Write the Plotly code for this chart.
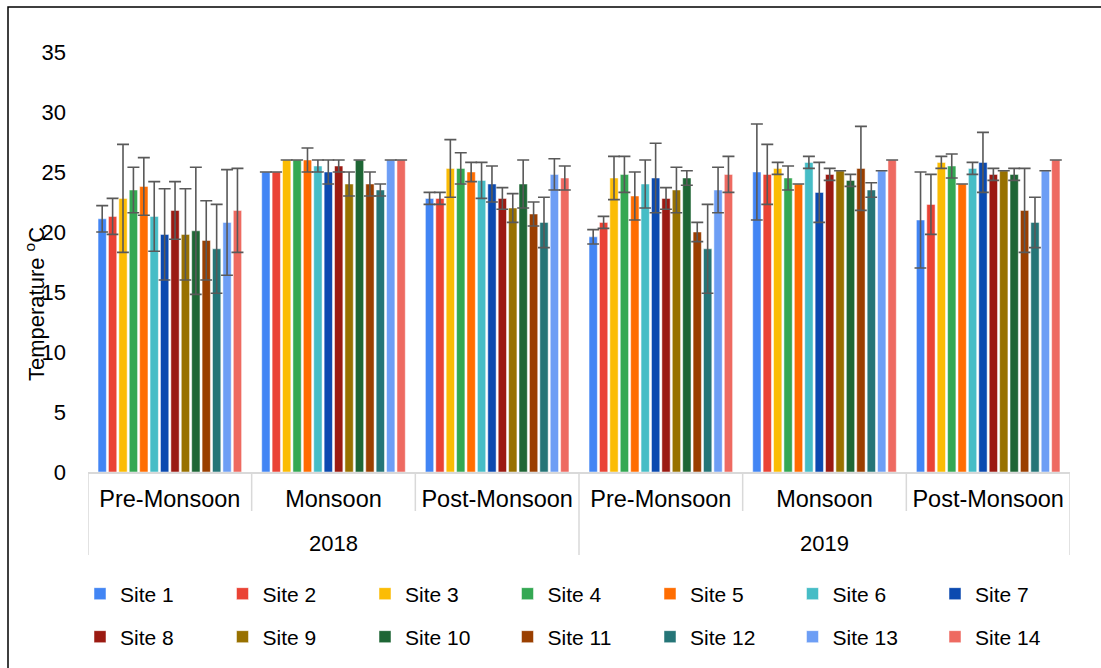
import plotly.graph_objects as go

years = ["2018", "2019"]
seasons = ["Pre-Monsoon", "Monsoon", "Post-Monsoon", "Pre-Monsoon", "Monsoon", "Post-Monsoon"]
season_year = ["2018", "2018", "2018", "2019", "2019", "2019"]
sites = [f"Site {i}" for i in range(1, 15)]

# mean temperature per site, one value per season group (in the order above)
means = {
    "Site 1":  [21.1, 25.0, 22.8, 19.6, 25.0, 21.0],
    "Site 2":  [21.3, 25.0, 22.8, 20.8, 24.8, 22.3],
    "Site 3":  [22.8, 26.0, 25.3, 24.5, 25.3, 25.8],
    "Site 4":  [23.5, 26.0, 25.3, 24.8, 24.5, 25.5],
    "Site 5":  [23.8, 26.0, 25.0, 23.0, 24.0, 24.0],
    "Site 6":  [21.3, 25.5, 24.3, 24.0, 25.8, 25.3],
    "Site 7":  [19.8, 25.0, 24.0, 24.5, 23.3, 25.8],
    "Site 8":  [21.8, 25.5, 22.8, 22.8, 24.8, 24.8],
    "Site 9":  [19.8, 24.0, 22.0, 23.5, 25.1, 25.1],
    "Site 10": [20.1, 26.0, 24.0, 24.5, 24.3, 24.8],
    "Site 11": [19.3, 24.0, 21.5, 20.0, 25.3, 21.8],
    "Site 12": [18.6, 23.5, 20.8, 18.6, 23.5, 20.8],
    "Site 13": [20.8, 26.0, 24.8, 23.5, 25.1, 25.1],
    "Site 14": [21.8, 26.0, 24.5, 24.8, 26.0, 26.0],
}
errors = {
    "Site 1":  [1.1, 0.0, 0.5, 0.6, 4.0, 4.0],
    "Site 2":  [1.5, 0.0, 0.5, 0.5, 2.5, 2.5],
    "Site 3":  [4.5, 0.0, 2.4, 1.8, 0.5, 0.5],
    "Site 4":  [1.9, 0.0, 1.3, 1.5, 1.0, 1.0],
    "Site 5":  [2.4, 1.0, 0.8, 2.0, 0.0, 0.0],
    "Site 6":  [2.9, 0.5, 1.5, 2.0, 0.5, 0.5],
    "Site 7":  [3.8, 1.0, 1.5, 2.9, 2.5, 2.5],
    "Site 8":  [2.4, 0.5, 0.9, 0.9, 0.5, 0.5],
    "Site 9":  [3.8, 1.0, 1.2, 1.9, 0.0, 0.0],
    "Site 10": [5.3, 0.0, 2.0, 0.6, 0.5, 0.5],
    "Site 11": [3.3, 1.0, 1.0, 0.8, 3.5, 3.5],
    "Site 12": [3.7, 0.5, 2.1, 3.7, 0.6, 2.1],
    "Site 13": [4.4, 0.0, 1.3, 1.9, 0.0, 0.0],
    "Site 14": [3.5, 0.0, 1.0, 1.5, 0.0, 0.0],
}
colors = ["#4285F4", "#EA4335", "#FBBC04", "#34A853", "#FF6D01", "#46BDC6", "#0B4AB0",
          "#9B1A12", "#987100", "#1E6635", "#9A3F00", "#257577", "#6D9EF5", "#EE6A61"]

FONT = "Liberation Sans, Arial, sans-serif"
xpos = list(range(len(seasons)))

fig = go.Figure()
for i, s in enumerate(sites):
    fig.add_trace(go.Bar(
        name=s,
        x=xpos,
        y=means[s],
        customdata=season_year,
        marker=dict(color=colors[i], line=dict(color="white", width=0.5)),
        error_y=dict(type="data", array=errors[s], visible=True,
                     color="#595959", thickness=1.6, width=6),
        legend="legend" if i < 7 else "legend2",
    ))

L, R, T, B = 88, 31, 52, 196
W, H = 1101, 668
pw, ph = W - L - R, H - T - B

def px_x(x):
    return (x - L) / pw

def px_y(y):
    return (H - B - y) / ph

legend_common = dict(
    orientation="h", xanchor="left", yanchor="middle",
    font=dict(family=FONT, size=21, color="#000000"),
    entrywidth=97.5, entrywidthmode="pixels",
    bgcolor="rgba(0,0,0,0)", traceorder="normal",
)

# category-axis dividers (Excel-style multi-level axis)
divider = dict(color="#D9D9D9", width=1.5)
shapes = []
n = len(seasons)
for k in range(n + 1):
    b = k - 0.5
    is_year_edge = k == 0 or k == n or season_year[k - 1] != season_year[k]
    shapes.append(dict(type="line", xref="x", yref="paper", x0=b, x1=b,
                       y0=0, y1=px_y(555 if is_year_edge else 511), line=divider))
shapes.append(dict(type="rect", xref="paper", yref="paper",
                   x0=px_x(8), x1=px_x(1110), y0=px_y(7), y1=px_y(680),
                   line=dict(color="#000000", width=1.5),
                   fillcolor="rgba(0,0,0,0)", layer="above"))

annotations = [dict(
    text="Temperature <sup>o</sup>C", textangle=-90,
    xref="paper", yref="paper", x=px_x(35), y=px_y(304),
    xanchor="center", yanchor="middle", showarrow=False,
    font=dict(family=FONT, size=22, color="#000000"),
)]
for yr in years:
    idx = [k for k in xpos if season_year[k] == yr]
    annotations.append(dict(
        text=yr, xref="x", yref="paper", x=sum(idx) / len(idx), y=px_y(543),
        xanchor="center", yanchor="middle", showarrow=False,
        font=dict(family=FONT, size=22, color="#000000"),
    ))

fig.update_layout(
    width=W, height=H,
    margin=dict(l=L, r=R, t=T, b=B, pad=0, autoexpand=False),
    paper_bgcolor="white", plot_bgcolor="white",
    barmode="group", bargap=0.11, bargroupgap=0.2,
    font=dict(family=FONT, size=21, color="#000000"),
    showlegend=True,
    legend=dict(x=px_x(80), y=px_y(594), **legend_common),
    legend2=dict(x=px_x(80), y=px_y(637), **legend_common),
    xaxis=dict(
        range=[-0.5, n - 0.5], tickvals=xpos, ticktext=seasons,
        showline=True, linecolor="#D9D9D9", linewidth=1.5,
        ticks="", ticklabelstandoff=5,
        tickfont=dict(family=FONT, size=23.5, color="#000000"),
        showgrid=False, zeroline=False,
    ),
    yaxis=dict(
        range=[0, 35], tick0=0, dtick=5, showgrid=False, zeroline=False,
        showline=False, ticks="", ticklabelstandoff=21,
        tickfont=dict(family=FONT, size=22, color="#000000"),
    ),
    annotations=annotations,
    shapes=shapes,
)

fig.write_html("out.html")
